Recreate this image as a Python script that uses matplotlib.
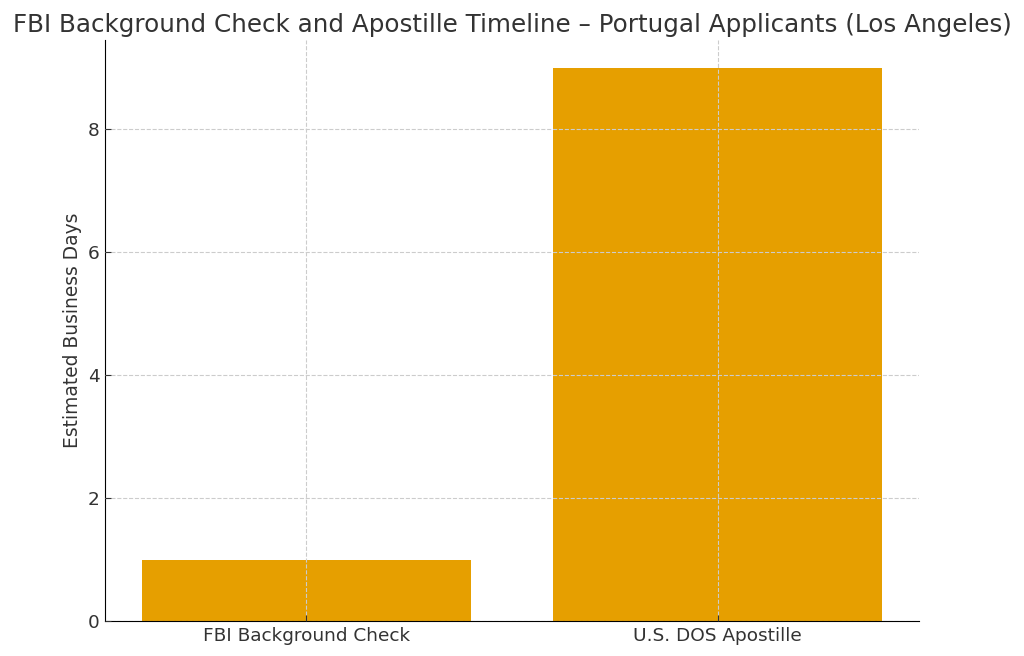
import matplotlib
matplotlib.use("Agg")
import matplotlib.pyplot as plt

# data
steps = ["FBI Background Check", "U.S. DOS Apostille"]
days = [1, 9]

fig = plt.figure(figsize=(10.24, 6.56), dpi=100)
ax = fig.add_axes([105 / 1024, 1 - 621 / 656, (919 - 105) / 1024, (621 - 40) / 656])

ax.bar(steps, days, width=0.8, color="#E69F00")
ax.grid(True, linestyle="--", color="#cccccc", linewidth=0.8)
ax.set_axisbelow(False)

ax.set_ylabel("Estimated Business Days", fontsize=13.4, color="#333333")
ax.set_title("FBI Background Check and Apostille Timeline \u2013 Portugal Applicants (Los Angeles)",
             fontsize=17.7, color="#333333", pad=6)
ax.tick_params(labelsize=13.3, colors="#333333", direction="in", length=4, pad=4)
ax.spines["top"].set_visible(False)
ax.spines["right"].set_visible(False)
ax.set_yticks([0, 2, 4, 6, 8])

fig.savefig("out.png", dpi=100)
